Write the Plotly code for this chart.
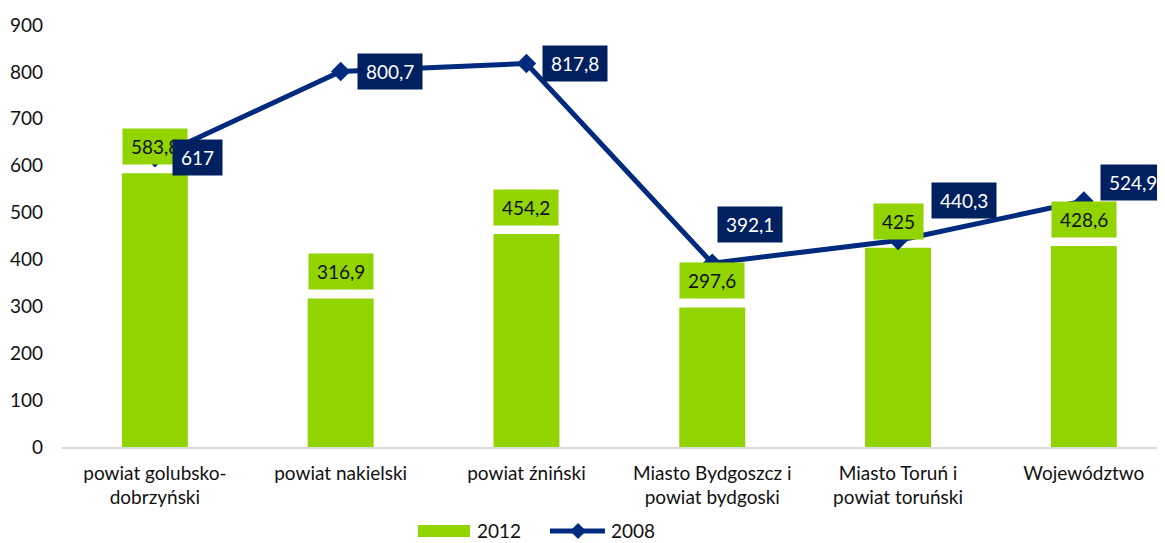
import plotly.graph_objects as go

categories = ["powiat golubsko-<br>dobrzyński", "powiat nakielski", "powiat źniński",
              "Miasto Bydgoszcz i<br>powiat bydgoski", "Miasto Toruń i<br>powiat toruński",
              "Województwo"]
values_2012 = [583.8, 316.9, 454.2, 297.6, 425, 428.6]
values_2008 = [617, 800.7, 817.8, 392.1, 440.3, 524.9]
labels_2012 = ["583,8", "316,9", "454,2", "297,6", "425", "428,6"]
labels_2008 = ["617", "800,7", "817,8", "392,1", "440,3", "524,9"]
y_ticks = [0, 100, 200, 300, 400, 500, 600, 700, 800, 900]
series_names = ["2012", "2008"]

GREEN = "#92d400"
NAVY_LINE = "#002a7d"
NAVY_BOX = "#002060"
FONT = "Lato"
TXT = "#111111"

# label placement (pixel offsets, style only)
off2008 = [  # (xanchor, yanchor, xshift, yshift)
    ("left", "middle", 17, 0),
    ("left", "middle", 16, 0),
    ("left", "middle", 16, 0),
    ("left", "bottom", 5, 20),
    ("left", "bottom", 33, 22),
    ("left", "middle", 16, 18),
]

fig = go.Figure()
fig.add_trace(go.Bar(
    x=categories, y=values_2012, name=series_names[0], width=0.355,
    marker=dict(color=GREEN, line=dict(width=0)), showlegend=False,
))
fig.add_trace(go.Scatter(
    x=categories, y=values_2008, name=series_names[1], mode="lines+markers",
    line=dict(color=NAVY_LINE, width=5),
    marker=dict(symbol="diamond", size=15, color=NAVY_LINE), showlegend=False,
))

anns = []
for c, v, t in zip(categories, values_2012, labels_2012):
    anns.append(dict(x=c, y=v, text=t, showarrow=False, xanchor="center", yanchor="bottom",
                     yshift=8, bgcolor=GREEN, borderpad=8, height=19,
                     font=dict(family=FONT, size=19, color=TXT)))
for c, v, t, (xa, ya, xs, ys) in zip(categories, values_2008, labels_2008, off2008):
    anns.append(dict(x=c, y=v, text=t, showarrow=False, xanchor=xa, yanchor=ya,
                     xshift=xs, yshift=ys, bgcolor=NAVY_BOX, borderpad=8, height=19,
                     font=dict(family=FONT, size=19, color="white")))

# manual legend (wide swatches like the original)
LEG_Y = -0.1990
anns.append(dict(x=0.3717, y=LEG_Y, xref="paper", yref="paper", text=series_names[0],
                 showarrow=False, xanchor="left", yanchor="middle", height=19,
                 font=dict(family=FONT, size=19, color=TXT)))
anns.append(dict(x=0.4923, y=LEG_Y, xref="paper", yref="paper", text=series_names[1],
                 showarrow=False, xanchor="left", yanchor="middle", height=19,
                 font=dict(family=FONT, size=19, color=TXT)))
shapes = [
    dict(type="rect", xref="paper", yref="paper", x0=0.3204, x1=0.3672,
         y0=LEG_Y - 0.0142, y1=LEG_Y + 0.0142, fillcolor=GREEN, line=dict(width=0)),
    dict(type="line", xref="paper", yref="paper", x0=0.4392, x1=0.4887, y0=LEG_Y, y1=LEG_Y,
         line=dict(color=NAVY_LINE, width=5)),
    dict(type="path", xref="paper", yref="paper", xsizemode="pixel", ysizemode="pixel",
         xanchor=0.4645, yanchor=LEG_Y, path="M-8,0 L0,8 L8,0 L0,-8 Z",
         fillcolor=NAVY_LINE, line=dict(width=0)),
]

fig.update_layout(
    width=1165, height=543,
    margin=dict(l=54, r=0, t=17, b=104),
    paper_bgcolor="white", plot_bgcolor="white",
    font=dict(family=FONT, size=19, color=TXT),
    annotations=anns,
    shapes=shapes,
    showlegend=False,
    xaxis=dict(range=[-0.5, 5.48], showgrid=False, showline=True, linecolor="#d9d9d9",
               linewidth=1.5, ticks="", ticklabelstandoff=8, tickfont=dict(size=19)),
    yaxis=dict(range=[0, 900], tickvals=y_ticks, showgrid=False, showline=False,
               zeroline=False, ticks="", ticklabelstandoff=18, tickfont=dict(size=19)),
)

fig.write_html("out.html")
